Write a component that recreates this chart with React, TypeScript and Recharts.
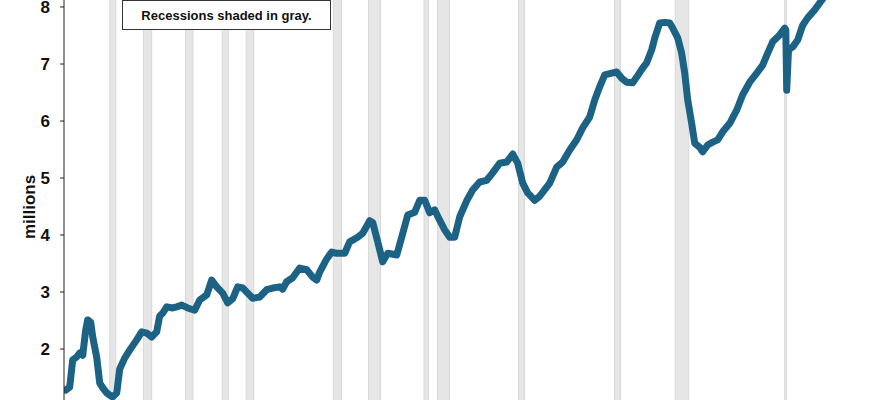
import React from "react";
import {
  LineChart,
  Line,
  XAxis,
  YAxis,
  ReferenceArea,
} from "recharts";

// construction employees (millions)
const YEARS = [
  1940.19, 1940.63, 1940.97, 1941.41, 1941.74, 1942.08, 1942.41, 1942.63, 1942.97, 1943.19,
  1943.63, 1943.97, 1944.3, 1944.74, 1945.08, 1945.41, 1945.86, 1946.19, 1946.74, 1947.3,
  1948.08, 1948.63, 1949.19, 1949.74, 1950.3, 1950.63, 1950.97, 1951.41, 1952.08, 1952.52,
  1953.08, 1953.74, 1954.52, 1955.08, 1955.86, 1956.41, 1956.97, 1957.63, 1958.19, 1958.74,
  1959.3, 1959.86, 1960.41, 1960.97, 1961.74, 1962.52, 1963.19, 1963.97, 1964.3, 1964.74,
  1965.41, 1966.19, 1966.97, 1967.63, 1968.08, 1968.41, 1969.19, 1969.74, 1970.3, 1971.19,
  1971.74, 1972.63, 1973.19, 1973.97, 1974.3, 1974.86, 1975.41, 1975.97, 1976.97, 1977.52,
  1978.19, 1978.97, 1979.52, 1980.08, 1980.63, 1981.19, 1981.74, 1982.3, 1982.86, 1983.41,
  1983.97, 1984.74, 1985.41, 1986.19, 1986.97, 1987.63, 1988.41, 1989.19, 1989.86, 1990.41,
  1990.97, 1991.52, 1992.3, 1992.86, 1993.97, 1994.74, 1995.41, 1996.19, 1996.97, 1997.63,
  1998.41, 1998.97, 1999.52, 2000.08, 2000.86, 2001.41, 2001.97, 2002.52, 2003.19, 2003.63,
  2004.3, 2004.74, 2005.3, 2005.63, 2006.19, 2006.74, 2007.3, 2007.63, 2008.19, 2008.63,
  2008.97, 2009.3, 2009.74, 2010.08, 2010.63, 2010.97, 2011.52, 2012.08, 2012.63, 2013.19,
  2013.97, 2014.74, 2015.41, 2016.19, 2016.97, 2017.63, 2018.19, 2018.74, 2019.52, 2020.08,
  2020.2, 2020.3, 2020.5, 2020.97, 2021.52, 2022.08, 2022.63, 2023.41, 2024.19, 2024.8,
];

const EMPLOYEES = [
  1.28, 1.33, 1.81, 1.86, 1.93, 1.89, 2.33, 2.51, 2.47, 2.21,
  1.86, 1.4, 1.32, 1.23, 1.19, 1.16, 1.23, 1.65, 1.84, 1.98,
  2.16, 2.3, 2.28, 2.21, 2.3, 2.58, 2.63, 2.74, 2.72, 2.74,
  2.77, 2.72, 2.68, 2.86, 2.95, 3.21, 3.09, 2.98, 2.81, 2.88,
  3.09, 3.07, 2.98, 2.89, 2.91, 3.04, 3.07, 3.09, 3.05, 3.18,
  3.25, 3.42, 3.39, 3.26, 3.21, 3.35, 3.58, 3.7, 3.68, 3.68,
  3.88, 3.96, 4.03, 4.25, 4.22, 3.88, 3.53, 3.68, 3.65, 3.96,
  4.35, 4.4, 4.61, 4.61, 4.39, 4.44, 4.26, 4.09, 3.96, 3.96,
  4.32, 4.6, 4.79, 4.93, 4.96, 5.09, 5.26, 5.28, 5.42, 5.26,
  4.91, 4.74, 4.61, 4.68, 4.91, 5.19, 5.28, 5.49, 5.67, 5.88,
  6.07, 6.37, 6.6, 6.81, 6.84, 6.86, 6.75, 6.68, 6.67, 6.77,
  6.93, 7.02, 7.25, 7.45, 7.72, 7.73, 7.72, 7.63, 7.46, 7.19,
  6.84, 6.37, 5.96, 5.61, 5.54, 5.46, 5.58, 5.63, 5.67, 5.81,
  5.96, 6.19, 6.46, 6.68, 6.84, 6.98, 7.19, 7.39, 7.51, 7.63,
  7.6, 6.54, 7.25, 7.3, 7.42, 7.68, 7.81, 7.95, 8.12, 8.25,
];

// NBER recessions, start / end as fractional years
const RECESSION_START = [
  1945.08, 1948.83, 1953.5, 1957.58, 1960.25, 1969.92, 1973.83,
  1980.0, 1981.5, 1990.5, 2001.17, 2007.92, 2020.08,
];
const RECESSION_END = [
  1945.75, 1949.75, 1954.33, 1958.25, 1961.08, 1970.83, 1975.17,
  1980.5, 1982.83, 1991.17, 2001.83, 2009.42, 2020.25,
];

const Y_TICKS = [1, 2, 3, 4, 5, 6, 7, 8];

const data = YEARS.map((year, i) => ({ year, value: EMPLOYEES[i] }));

const FONT = "'Liberation Sans', Arial, sans-serif";

export default function App() {
  return (
    <div
      style={{
        position: "absolute",
        left: 0,
        top: 0,
        width: 870,
        height: 400,
        overflow: "hidden",
        background: "#fff",
        fontFamily: FONT,
      }}
    >
      <div style={{ position: "absolute", left: 0, top: -50 }}>
        <LineChart
          width={901}
          height={513}
          data={data}
          margin={{ top: 0, right: 0, bottom: 0, left: 0 }}
        >
          <XAxis
            type="number"
            dataKey="year"
            domain={[1940, 2033]}
            allowDataOverflow
            hide
          />
          <YAxis
            type="number"
            domain={[0, 9]}
            ticks={Y_TICKS}
            width={64}
            axisLine={{ stroke: "#222", strokeWidth: 1 }}
            tickLine={{ stroke: "#222", strokeWidth: 1 }}
            tickSize={4}
            tickMargin={10}
            tick={{ fill: "#111", fontSize: 17, fontWeight: 700, fontFamily: FONT }}
          />
          {RECESSION_START.map((start, i) => (
            <ReferenceArea
              key={start}
              x1={start}
              x2={RECESSION_END[i]}
              fill="#e6e6e6"
              fillOpacity={1}
              stroke="#d8d8d8"
              strokeWidth={1}
            />
          ))}
          <Line
            type="linear"
            dataKey="value"
            stroke="#1b6285"
            strokeWidth={7}
            strokeLinejoin="round"
            strokeLinecap="round"
            dot={false}
            isAnimationActive={false}
          />
        </LineChart>
      </div>
      <div
        style={{
          position: "absolute",
          left: 30,
          top: 207,
          transform: "translate(-50%, -50%) rotate(-90deg)",
          fontSize: 17,
          fontWeight: 700,
          color: "#111",
          whiteSpace: "nowrap",
        }}
      >
        millions
      </div>
      <div
        style={{
          position: "absolute",
          left: 122,
          top: 0,
          width: 207,
          height: 28,
          border: "1.5px solid #333",
          background: "#fff",
          fontSize: 13,
          fontWeight: 700,
          color: "#111",
          display: "flex",
          alignItems: "center",
          justifyContent: "center",
        }}
      >
        Recessions shaded in gray.
      </div>
    </div>
  );
}
